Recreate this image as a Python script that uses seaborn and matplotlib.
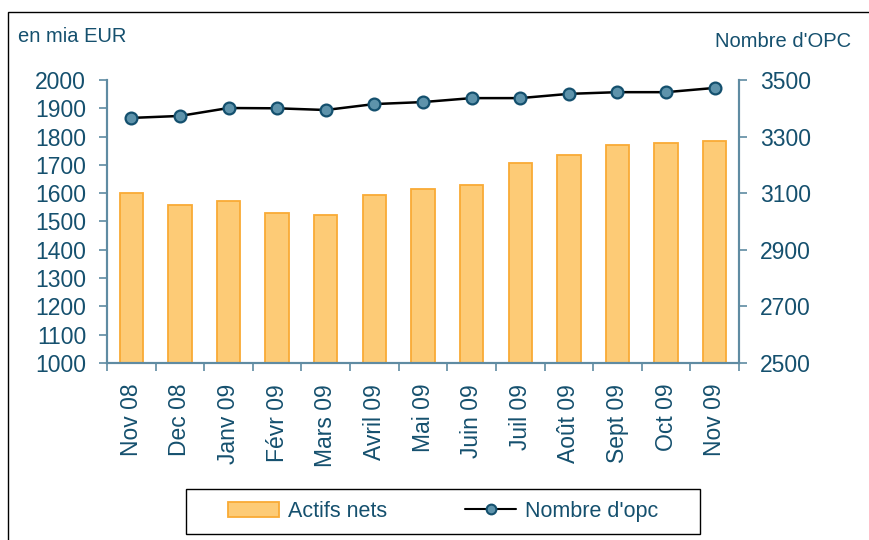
import numpy as np
import pandas as pd
import matplotlib
matplotlib.use("Agg")
import matplotlib.pyplot as plt
from matplotlib.patches import Rectangle, Patch
from matplotlib.lines import Line2D
import seaborn as sns

months = ["Nov 08", "Dec 08", "Janv 09", "Févr 09", "Mars 09", "Avril 09", "Mai 09",
          "Juin 09", "Juil 09", "Août 09", "Sept 09", "Oct 09", "Nov 09"]
actifs_nets = [1601, 1558, 1572, 1530, 1523, 1594, 1616, 1630, 1708, 1736, 1771, 1778, 1785]
nombre_opc = [3366, 3373, 3401, 3400, 3394, 3415, 3422, 3436, 3436, 3451, 3457, 3457, 3472]
left_ticks = [1000, 1100, 1200, 1300, 1400, 1500, 1600, 1700, 1800, 1900, 2000]
right_ticks = [2500, 2700, 2900, 3100, 3300, 3500]

sns.set_theme(style="white")
plt.rcParams["font.family"] = ["Liberation Sans", "DejaVu Sans"]

TXT = "#15506E"
SPINE = "#5F8BA2"
BAR_FILL = "#FDCB76"
BAR_EDGE = "#F9AA35"
MK_FACE = "#5E93AB"
MK_EDGE = "#14506E"
W, H = 869, 540

df = pd.DataFrame({"mois": months, "actifs": actifs_nets, "opc": nombre_opc})
df["pos"] = np.arange(len(months))

fig = plt.figure(figsize=(W/100, H/100), dpi=100)
ax = fig.add_axes([107/W, 1-363/H, (739-107)/W, (363-80)/H])

sns.barplot(data=df, x="mois", y="actifs", color=BAR_FILL, edgecolor=BAR_EDGE,
            linewidth=1.3, width=0.48, saturation=1, ax=ax)
ax.set_xlim(-0.5, len(months)-0.5)
ax.set_ylim(1000, 2000)
ax.set_yticks(left_ticks)
ax.set_xlabel("")
ax.set_ylabel("")

ax2 = ax.twinx()
sns.lineplot(data=df, x="pos", y="opc", color="black", linewidth=1.8, marker="o",
             markersize=8.5, markerfacecolor=MK_FACE, markeredgecolor=MK_EDGE,
             markeredgewidth=1.6, ax=ax2)
ax2.set_xlim(-0.5, len(months)-0.5)
ax2.set_ylim(2500, 3500)
ax2.set_yticks(right_ticks)
ax2.set_xlabel("")
ax2.set_ylabel("")

for a in (ax, ax2):
    for s in a.spines.values():
        s.set_color(SPINE)
        s.set_linewidth(1.5)
    a.spines["top"].set_visible(False)

FS = 16.5
ax.tick_params(axis="y", which="major", left=True, length=6, width=1.2, color=SPINE,
               labelsize=FS, labelcolor=TXT, pad=9, direction="out")
ax.tick_params(axis="x", which="major", bottom=False, labelsize=FS, labelcolor=TXT,
               labelrotation=90, pad=9)
ax.set_xticks(np.arange(-0.5, len(months)), minor=True)
ax.tick_params(axis="x", which="minor", bottom=True, length=6, width=1.2, color=SPINE,
               direction="out")
ax2.tick_params(axis="y", which="major", right=True, length=6, width=1.2, color=SPINE,
                labelsize=FS, labelcolor=TXT, pad=9, direction="out")
ax2.grid(False)
ax.grid(False)

fig.text(18/W, 1-36/H, "en mia EUR", fontsize=14.5, color=TXT, ha="left", va="center")
fig.text(851/W, 1-42/H, "Nombre d'OPC", fontsize=14.5, color=TXT, ha="right", va="center")

handles = [Patch(facecolor=BAR_FILL, edgecolor=BAR_EDGE, linewidth=1.3),
           Line2D([0], [0], color="black", linewidth=1.5, marker="o", markersize=7,
                  markerfacecolor=MK_FACE, markeredgecolor=MK_EDGE, markeredgewidth=1.5)]
leg = fig.legend(handles, ["Actifs nets", "Nombre d'opc"], loc="center",
                 bbox_to_anchor=(443/W, 1-511.5/H), ncol=2, fontsize=15.5,
                 frameon=False, columnspacing=3.6, handlelength=2.4,
                 handletextpad=0.4, borderpad=0.3, labelcolor=TXT)

fig.patches.append(Rectangle((186/W, 1-534/H), (700-186)/W, (534-489)/H,
                             transform=fig.transFigure, fill=False,
                             edgecolor="black", linewidth=1.0))
fig.patches.append(Rectangle((8/W, -0.05), 1.2, 1-12/H+0.05, transform=fig.transFigure,
                             fill=False, edgecolor="black", linewidth=1.0))

fig.savefig("out.png", dpi=100)
